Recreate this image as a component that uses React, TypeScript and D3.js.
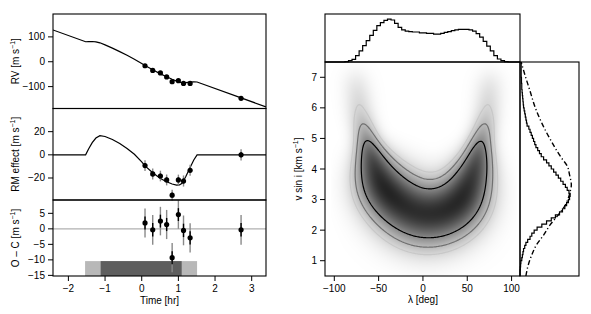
import { useMemo } from 'react';
import * as d3 from 'd3';

// ---------------- data ----------------
// spectroscopic observations (time from mid-transit, hr)
const obsTime = [0.09, 0.3, 0.51, 0.68, 0.83, 1.0, 1.14, 1.32, 2.71];
const rvObs = [-16, -35, -45, -61, -80, -76, -87, -87, -147];
const rmObs = [-9.3, -16.5, -18.3, -21.7, -34.8, -21.7, -22.6, -13.3, 0];
const ocObs = [1.9, -0.3, 2.5, 1.4, -9.3, 4.6, -0.5, -2.9, -0.3];
const obsErr = [4.7, 4.8, 4.6, 4.7, 4.7, 4.6, 4.8, 4.7, 4.8];

// best-fit RM anomaly model
const rmModelTime = [-2.42, -1.53, -1.45, -1.35, -1.25, -1.14, -1.0, -0.8, -0.6, -0.4, -0.2, 0.0, 0.09, 0.3, 0.51, 0.68, 0.83, 0.95, 1.03, 1.1, 1.2, 1.32, 1.42, 1.51, 3.39];
const rmModelValue = [0, 0, 5, 10.5, 14.5, 16.5, 15.8, 13.2, 9.8, 5.5, 0.5, -6, -9.5, -15.5, -20.5, -23.3, -25.2, -26.2, -26, -24.5, -19, -11, -4.5, 0, 0];
// orbital RV trend (m/s and m/s per hr)
const trendAt0 = -1;
const trendSlope = -53.2;

// transit contact times (hr)
const transitOuter = [-1.545, 1.51];
const transitInner = [-1.12, 1.09];
const transitBarRange = [-15.2, -10.4];

// ticks
const timeTicks = [-2, -1, 0, 1, 2, 3];
const rvTicks = [100, 0, -100];
const rmTicks = [20, 0, -20];
const ocTicks = [5, 0, -5, -10, -15];
const lambdaTicks = [-100, -50, 0, 50, 100];
const vsiniTicks = [1, 2, 3, 4, 5, 6, 7];

// marginal posterior of lambda (4 deg bins starting at -88)
const lambdaBinStart = -88;
const lambdaBinWidth = 4;
const lambdaHist = [0.01, 0.03, 0.06, 0.15, 0.26, 0.38, 0.5, 0.62, 0.74, 0.85, 0.92, 0.97, 1.0, 0.98, 0.9, 0.81, 0.75, 0.72, 0.71, 0.7, 0.7, 0.68, 0.68, 0.67, 0.67, 0.65, 0.65, 0.67, 0.69, 0.71, 0.73, 0.75, 0.76, 0.76, 0.76, 0.75, 0.72, 0.66, 0.58, 0.48, 0.37, 0.26, 0.15, 0.07, 0.03, 0.01];

// marginal posterior of v sin i (0.1 km/s bins starting at 0.5)
const vsiniBinStart = 0.5;
const vsiniBinWidth = 0.1;
const vsiniHist = [0, 0, 0.005, 0.01, 0.015, 0.03, 0.04, 0.05, 0.06, 0.08, 0.1, 0.13, 0.17, 0.2, 0.24, 0.29, 0.37, 0.45, 0.53, 0.6, 0.67, 0.72, 0.76, 0.79, 0.82, 0.84, 0.85, 0.83, 0.8, 0.77, 0.73, 0.69, 0.65, 0.61, 0.57, 0.53, 0.49, 0.45, 0.4, 0.36, 0.33, 0.3, 0.27, 0.25, 0.23, 0.21, 0.19, 0.17, 0.15, 0.12, 0.11, 0.1, 0.09, 0.08, 0.07, 0.06, 0.055, 0.05, 0.045, 0.04, 0.035, 0.03, 0.03, 0.025, 0.025, 0.02, 0.02, 0.02, 0.02, 0.02];

// spectroscopic prior on v sin i (dash-dot)
const priorV = [0.5, 0.86, 1.19, 1.52, 1.84, 2.17, 2.5, 2.83, 3.05, 3.26, 3.48, 3.81, 4.1, 4.37, 4.91, 5.46, 6.0, 6.55, 7.1, 7.5];
const priorDens = [0.1, 0.14, 0.2, 0.28, 0.4, 0.51, 0.65, 0.77, 0.82, 0.85, 0.87, 0.84, 0.8, 0.7, 0.53, 0.38, 0.26, 0.17, 0.08, 0.02];

// ridge of the joint (lambda, v sin i) posterior: position, spread (px), height
const ridgeLambda = [-76, -71, -66.5, -62.5, -59, -55.5, -51, -45, -35, -20, 0, 20, 38, 46, 53, 58.5, 62, 65, 69, 72.5, 76];
const ridgeV = [7.0, 5.85, 5.3, 4.82, 4.45, 4.12, 3.75, 3.35, 3.08, 2.7, 2.42, 2.5, 2.76, 3.05, 3.55, 3.98, 4.4, 4.82, 5.3, 5.85, 7.0];
const ridgeSigma = [7, 6.5, 6, 6.5, 7.5, 9, 11, 13, 14, 15.5, 16, 15.5, 14.5, 13, 11, 9, 7.5, 6.5, 6, 6.5, 7];
const ridgeWeight = [0.005, 0.038, 0.11, 0.27, 0.5, 0.65, 0.82, 1.0, 0.95, 0.87, 0.8, 0.85, 0.93, 0.9, 0.78, 0.65, 0.5, 0.27, 0.11, 0.038, 0.005];
// credible-region contour levels (fraction of peak) and their colours
const contourLevels = [0.034, 0.1, 0.29];
const contourColors = ['#c8c8c8', '#707070', '#000000'];

// ---------------- layout ----------------
const FONT = 'Liberation Sans, Arial, Helvetica, sans-serif';
const W = 591;
const H = 314;
const L = { x0: 53, x1: 266 };
const rvBox = { y0: 14, y1: 108.5 };
const rmBox = { y0: 108.5, y1: 200 };
const ocBox = { y0: 200, y1: 276 };
const R = { x0: 325, x1: 520, y0: 62, y1: 276 };
const topBox = { y0: 14, y1: 62 };
const sideBox = { x0: 520, x1: 579 };

const xTime = d3.scaleLinear().domain([-2.42, 3.39]).range([L.x0, L.x1]);
const yRV = d3.scaleLinear().domain([-188, 192]).range([rvBox.y1, rvBox.y0]);
const yRM = d3.scaleLinear().domain([-39, 40]).range([rmBox.y1, rmBox.y0]);
const yOC = d3.scaleLinear().domain([-15.2, 9.3]).range([ocBox.y1, ocBox.y0]);
const xLam = d3.scaleLinear().domain([-110.5, 109.5]).range([R.x0, R.x1]);
const yV = d3.scaleLinear().domain([0.5, 7.5]).range([R.y1, R.y0]);
const yHistTop = d3.scaleLinear().domain([0, 1.12]).range([topBox.y1, topBox.y0]);
const xHistSide = d3.scaleLinear().domain([0, 1]).range([sideBox.x0, sideBox.x1]);

const fmt = (n: number) => (n < 0 ? '\u2212' + Math.abs(n) : String(n));

const YLabel = ({ x, y, text }: { x: number; y: number; text: string }) => (
  <text transform={`translate(${x},${y}) rotate(-90)`} textAnchor="middle" fontSize={10} fontFamily={FONT}>
    {text}
    <tspan fontSize={7} dy={-4}>{'\u22121'}</tspan>
    <tspan dy={4}>]</tspan>
  </text>
);

const YTicks = ({ ticks, scale, x }: { ticks: number[]; scale: (v: number) => number; x: number }) => (
  <g>
    {ticks.map((t) => (
      <g key={t}>
        <line x1={x - 5} x2={x} y1={scale(t)} y2={scale(t)} stroke="#000" strokeWidth={1} />
        <text x={x - 8} y={scale(t) + 3.5} textAnchor="end" fontSize={10} fontFamily={FONT}>{fmt(t)}</text>
      </g>
    ))}
  </g>
);

const XTicks = ({ ticks, scale, y }: { ticks: number[]; scale: (v: number) => number; y: number }) => (
  <g>
    {ticks.map((t) => (
      <g key={t}>
        <line x1={scale(t)} x2={scale(t)} y1={y} y2={y + 5} stroke="#000" strokeWidth={1} />
        <text x={scale(t)} y={y + 16} textAnchor="middle" fontSize={10} fontFamily={FONT}>{fmt(t)}</text>
      </g>
    ))}
  </g>
);

function useDensity() {
  return useMemo(() => {
    const nx = Math.round(R.x1 - R.x0);
    const ny = Math.round(R.y1 - R.y0);
    const grid = new Float64Array(nx * ny);
    const pts = ridgeLambda.map((l, i) => ({
      x: xLam(l) - R.x0,
      y: yV(ridgeV[i]) - R.y0,
      s: ridgeSigma[i],
      w: ridgeWeight[i],
    }));
    const addBlob = (cx: number, cy: number, s: number, amp: number) => {
      const i0 = Math.max(0, Math.floor(cx - 4 * s));
      const i1 = Math.min(nx - 1, Math.ceil(cx + 4 * s));
      const j0 = Math.max(0, Math.floor(cy - 4 * s));
      const j1 = Math.min(ny - 1, Math.ceil(cy + 4 * s));
      const k = 1 / (2 * s * s);
      for (let j = j0; j <= j1; j++) {
        const dy = j + 0.5 - cy;
        for (let i = i0; i <= i1; i++) {
          const dx = i + 0.5 - cx;
          grid[j * nx + i] += amp * Math.exp(-(dx * dx + dy * dy) * k);
        }
      }
    };
    for (let k = 0; k < pts.length - 1; k++) {
      const a = pts[k];
      const b = pts[k + 1];
      const len = Math.hypot(b.x - a.x, b.y - a.y);
      const n = Math.max(1, Math.ceil(len / 1.5));
      const step = len / n;
      for (let m = 0; m < n; m++) {
        const t = m / n;
        const s = a.s + (b.s - a.s) * t;
        const w = a.w + (b.w - a.w) * t;
        addBlob(a.x + (b.x - a.x) * t, a.y + (b.y - a.y) * t, s, (w * step) / (s * Math.sqrt(2 * Math.PI)));
      }
    }
    const max = d3.max(grid) || 1;
    const values = Array.from(grid, (v) => v / max);

    const canvas = document.createElement('canvas');
    canvas.width = nx;
    canvas.height = ny;
    const ctx = canvas.getContext('2d')!;
    const img = ctx.createImageData(nx, ny);
    values.forEach((v, idx) => {
      const g = Math.round(255 * (1 - 0.86 * Math.pow(Math.max(0, v), 0.5)));
      img.data[idx * 4] = g;
      img.data[idx * 4 + 1] = g;
      img.data[idx * 4 + 2] = g;
      img.data[idx * 4 + 3] = 255;
    });
    ctx.putImageData(img, 0, 0);

    const contours = d3.contours().size([nx, ny]).thresholds(contourLevels)(values);
    const path = d3.geoPath(d3.geoIdentity().translate([R.x0, R.y0]) as any);
    return { href: canvas.toDataURL(), nx, ny, paths: contours.map((c) => path(c as any) || '') };
  }, []);
}

export default function App() {
  const density = useDensity();

  const rmLine = d3.line<number>().x((_, i) => xTime(rmModelTime[i])).y((v) => yRM(v));
  const rvLine = d3
    .line<number>()
    .x((_, i) => xTime(rmModelTime[i]))
    .y((v, i) => yRV(trendAt0 + trendSlope * rmModelTime[i] + v));

  const lamPts = [{ x: -110.5, y: 0 }, ...lambdaHist.map((h, i) => ({ x: lambdaBinStart + i * lambdaBinWidth, y: h }))];
  lamPts.push({ x: lambdaBinStart + lambdaHist.length * lambdaBinWidth, y: 0 }, { x: 109.5, y: 0 });
  const lamLine = d3
    .line<{ x: number; y: number }>()
    .x((d) => xLam(d.x))
    .y((d) => yHistTop(d.y))
    .curve(d3.curveStepAfter);

  const vPts: [number, number][] = [];
  vsiniHist.forEach((h, i) => {
    const lo = vsiniBinStart + i * vsiniBinWidth;
    vPts.push([xHistSide(h), yV(lo)], [xHistSide(h), yV(lo + vsiniBinWidth)]);
  });
  const vLine = d3.line();
  const priorLine = d3.line<number>().x((d) => xHistSide(d)).y((_, i) => yV(priorV[i])).curve(d3.curveMonotoneY);

  const errBars = (scale: (v: number) => number, vals: number[]) =>
    obsTime.map((t, i) => (
      <g key={i}>
        <line x1={xTime(t)} x2={xTime(t)} y1={scale(vals[i] - obsErr[i])} y2={scale(vals[i] + obsErr[i])} stroke="#8a8a8a" strokeWidth={1.4} />
        <line x1={xTime(t)} x2={xTime(t)} y1={scale(vals[i] - obsErr[i] * 0.45)} y2={scale(vals[i] + obsErr[i] * 0.45)} stroke="#000" strokeWidth={1.4} />
        <circle cx={xTime(t)} cy={scale(vals[i])} r={2.6} fill="#000" />
      </g>
    ));

  return (
    <svg width={W} height={H} style={{ position: 'absolute', left: 0, top: 0, background: '#fff' }}>
      {/* ---------- left: RV, RM effect, O-C ---------- */}
      <defs>
        <clipPath id="clipLeft">
          <rect x={L.x0} y={rvBox.y0} width={L.x1 - L.x0} height={ocBox.y1 - rvBox.y0} />
        </clipPath>
        <clipPath id="clipMain">
          <rect x={R.x0} y={R.y0} width={R.x1 - R.x0} height={R.y1 - R.y0} />
        </clipPath>
      </defs>

      <g clipPath="url(#clipLeft)">
        <rect x={xTime(transitOuter[0])} width={xTime(transitOuter[1]) - xTime(transitOuter[0])} y={yOC(transitBarRange[1])} height={yOC(transitBarRange[0]) - yOC(transitBarRange[1])} fill="#b8b8b8" />
        <rect x={xTime(transitInner[0])} width={xTime(transitInner[1]) - xTime(transitInner[0])} y={yOC(transitBarRange[1])} height={yOC(transitBarRange[0]) - yOC(transitBarRange[1])} fill="#5e5e5e" />
        <line x1={L.x0} x2={L.x1} y1={yOC(0)} y2={yOC(0)} stroke="#b0b0b0" strokeWidth={1.3} />
        <path d={rvLine(rmModelValue) || ''} fill="none" stroke="#000" strokeWidth={1.2} />
        <path d={rmLine(rmModelValue) || ''} fill="none" stroke="#000" strokeWidth={1.2} />
        {obsTime.map((t, i) => (
          <circle key={i} cx={xTime(t)} cy={yRV(rvObs[i])} r={2.6} fill="#000" />
        ))}
        {errBars(yRM, rmObs)}
        {errBars(yOC, ocObs)}
      </g>
      <rect x={L.x0} y={rvBox.y0} width={L.x1 - L.x0} height={rvBox.y1 - rvBox.y0} fill="none" stroke="#000" strokeWidth={1.1} />
      <rect x={L.x0} y={rmBox.y0} width={L.x1 - L.x0} height={rmBox.y1 - rmBox.y0} fill="none" stroke="#000" strokeWidth={1.1} />
      <rect x={L.x0} y={ocBox.y0} width={L.x1 - L.x0} height={ocBox.y1 - ocBox.y0} fill="none" stroke="#000" strokeWidth={1.1} />
      <YTicks ticks={rvTicks} scale={yRV} x={L.x0} />
      <YTicks ticks={rmTicks} scale={yRM} x={L.x0} />
      <YTicks ticks={ocTicks} scale={yOC} x={L.x0} />
      <XTicks ticks={timeTicks} scale={xTime} y={ocBox.y1} />
      <YLabel x={18.5} y={(rvBox.y0 + rvBox.y1) / 2} text="RV [m s" />
      <YLabel x={18.5} y={(rmBox.y0 + rmBox.y1) / 2} text="RM effect [m s" />
      <YLabel x={18.5} y={(ocBox.y0 + ocBox.y1) / 2} text={'O \u2013 C [m s'} />
      <text x={(L.x0 + L.x1) / 2} y={304} textAnchor="middle" fontSize={10} fontFamily={FONT}>Time [hr]</text>

      {/* ---------- right: joint posterior with marginals ---------- */}
      <g clipPath="url(#clipMain)">
        <image href={density.href} x={R.x0} y={R.y0} width={density.nx} height={density.ny} preserveAspectRatio="none" />
        {density.paths.map((d, i) => (
          <path key={i} d={d} fill="none" stroke={contourColors[i]} strokeWidth={1.2} />
        ))}
      </g>
      <path d={lamLine(lamPts) || ''} fill="none" stroke="#000" strokeWidth={1.2} />
      <path d={vLine(vPts) || ''} fill="none" stroke="#000" strokeWidth={1.2} />
      <path d={priorLine(priorDens) || ''} fill="none" stroke="#000" strokeWidth={1.4} strokeDasharray="5,2.5,1.2,2.5" />
      <rect x={R.x0} y={topBox.y0} width={R.x1 - R.x0} height={topBox.y1 - topBox.y0} fill="none" stroke="#000" strokeWidth={1.1} />
      <rect x={R.x0} y={R.y0} width={R.x1 - R.x0} height={R.y1 - R.y0} fill="none" stroke="#000" strokeWidth={1.1} />
      <rect x={sideBox.x0} y={R.y0} width={sideBox.x1 - sideBox.x0} height={R.y1 - R.y0} fill="none" stroke="#000" strokeWidth={1.1} />
      <YTicks ticks={vsiniTicks} scale={yV} x={R.x0} />
      <XTicks ticks={lambdaTicks} scale={xLam} y={R.y1} />
      <YLabel x={302} y={(R.y0 + R.y1) / 2} text="v sin i [km s" />
      <text x={xLam(0)} y={303} textAnchor="middle" fontSize={10} fontFamily={FONT}>{'\u03bb [deg]'}</text>
    </svg>
  );
}
